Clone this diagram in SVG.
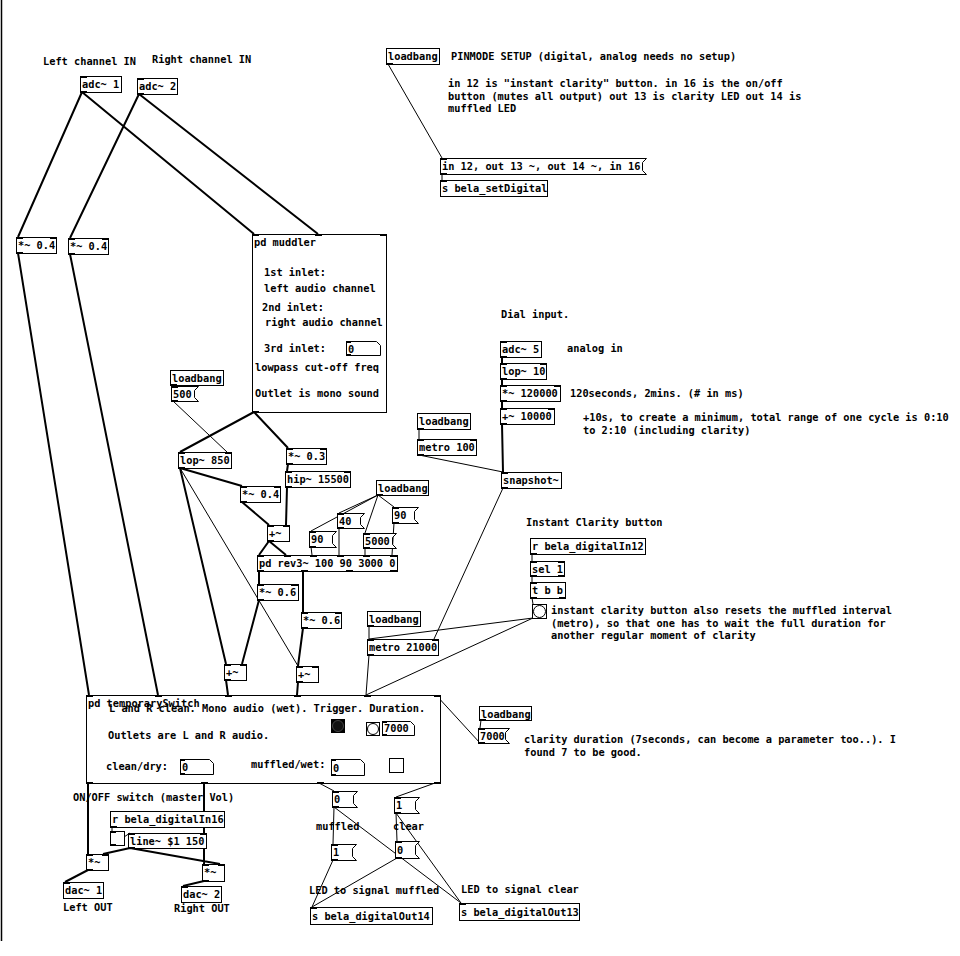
<svg xmlns="http://www.w3.org/2000/svg" width="960" height="956" viewBox="0 0 960 956">
<style>
.b{fill:#fff;stroke:#000;stroke-width:1}
.t{font-family:"DejaVu Sans Mono","Liberation Mono",monospace;font-size:10.3px;font-weight:bold;fill:#000}
.io{fill:#000}
.s{stroke:#000;stroke-width:2;fill:none}
.c{stroke:#000;stroke-width:1;fill:none}
</style>
<rect x="0" y="0" width="960" height="956" fill="#fff"/>
<line x1="1.5" y1="0" x2="1.5" y2="941" stroke="#000" stroke-width="1.5"/>
<g id="connectors">
<path class="s" d="M82 92L18 237M82 92L254 234M139 94L70 238M139 94L318 234M18 253L89 695M70 254L158 695M254 412L180 452M254 412L288 448M180 468L242 486M180 468L226 664M288 464L287 471M287 487L286 525M242 502L269 525M269 541L259 555M269 541L286 555M259 571L259 584M303 571L303 612M259 600L242 664M303 628L298 666M226 680L228 695M298 682L297 695M502 357L502 363M502 379L502 385M502 401L502 408M502 424L503 472M88 783L88 854M204 783L204 864M130 848L103 854M130 848L220 864M88 870L65 882M204 881L183 886"/>
<path class="c" stroke-width="1.4" d="M180 468L298 666"/>
<path class="c" d="M388 64L442 158M442 174L442 180M172 385L173 386M173 401L227 452M378 495L311 531M378 495L339 513M378 495L365 533M378 495L394 507M311 547L312 555M339 528L339 555M365 548L365 555M394 523L392 555M419 429L419 439M419 455L503 472M503 488L434 639M369 626L369 639M533 618L369 639M533 618L366 695M369 655L366 695M532 554L532 561M532 576L532 582M532 598L533 604M481 720L480 728M480 743L436 695M319 783L334 791M435 783L396 797M334 807L333 844M334 807L461 903M333 860L312 907M396 813L397 841M396 813L461 903M397 858L312 907M112 827L112 831M112 845L130 833"/>
</g>
<g id="comments" class="t">
<text x="43" y="65">Left channel IN</text>
<text x="152" y="63">Right channel IN</text>
<text x="451" y="60">PINMODE SETUP (digital, analog needs no setup)</text>
<text x="448" y="87">in 12 is "instant clarity" button. in 16 is the on/off</text>
<text x="448" y="99.5">button (mutes all output) out 13 is clarity LED out 14 is</text>
<text x="448" y="112">muffled LED</text>
<text x="501" y="318">Dial input.</text>
<text x="567" y="352">analog in</text>
<text x="570" y="397">120seconds, 2mins. (# in ms)</text>
<text x="583" y="421">+10s, to create a minimum, total range of one cycle is 0:10</text>
<text x="583" y="434">to 2:10 (including clarity)</text>
<text x="526" y="526">Instant Clarity button</text>
<text x="551" y="614">instant clarity button also resets the muffled interval</text>
<text x="551" y="626.5">(metro), so that one has to wait the full duration for</text>
<text x="551" y="639">another regular moment of clarity</text>
<text x="524" y="743">clarity duration (7seconds, can become a parameter too..). I</text>
<text x="524" y="755.5">found 7 to be good.</text>
<text x="73" y="801">ON/OFF switch (master Vol)</text>
<text x="316" y="830">muffled</text>
<text x="393" y="830">clear</text>
<text x="309" y="894">LED to signal muffled</text>
<text x="461" y="893">LED to signal clear</text>
<text x="63" y="911">Left OUT</text>
<text x="174" y="912">Right OUT</text>
</g>
<g id="adc1"><rect class="b" x="80.5" y="76.5" width="41" height="16"/><text class="t" x="82" y="88">adc~ 1</text><rect class="io" x="80" y="76" width="7" height="2"/><rect class="io" x="80" y="91" width="7" height="2"/></g>
<g id="adc2"><rect class="b" x="137.5" y="78.5" width="40" height="16"/><text class="t" x="139" y="90">adc~ 2</text><rect class="io" x="137" y="78" width="7" height="2"/><rect class="io" x="137" y="93" width="7" height="2"/></g>
<g id="mulL"><rect class="b" x="16.5" y="237.5" width="40" height="16"/><text class="t" x="18" y="249">*~ 0.4</text><rect class="io" x="16" y="237" width="7" height="2"/><rect class="io" x="50" y="237" width="7" height="2"/><rect class="io" x="16" y="252" width="7" height="2"/></g>
<g id="mulR"><rect class="b" x="68.5" y="238.5" width="40" height="16"/><text class="t" x="70" y="250">*~ 0.4</text><rect class="io" x="68" y="238" width="7" height="2"/><rect class="io" x="102" y="238" width="7" height="2"/><rect class="io" x="68" y="253" width="7" height="2"/></g>
<g id="muddler"><rect class="b" x="252.5" y="234.5" width="134" height="178"/>
<rect class="io" x="252" y="234" width="7" height="2"/><rect class="io" x="315" y="234" width="7" height="2"/><rect class="io" x="380" y="234" width="7" height="2"/><rect class="io" x="252" y="411" width="7" height="2"/>
<text class="t" x="254" y="246">pd muddler</text>
<text class="t" x="264" y="276">1st inlet:</text>
<text class="t" x="264" y="292">left audio channel</text>
<text class="t" x="262" y="311">2nd inlet:</text>
<text class="t" x="265" y="326">right audio channel</text>
<text class="t" x="264" y="352">3rd inlet:</text>
<path class="b" d="M346.5 341.5H376.5L380.5 345.5V355.5H346.5Z"/><text class="t" x="348" y="352.5">0</text><rect class="io" x="346" y="341" width="5" height="2"/><rect class="io" x="346" y="354" width="5" height="2"/>
<text class="t" x="255" y="371">lowpass cut-off freq</text>
<text class="t" x="255" y="397">Outlet is mono sound</text></g>
<g id="loadbang1"><rect class="b" x="386.5" y="48.5" width="53" height="16"/><text class="t" x="388" y="60">loadbang</text><rect class="io" x="386" y="63" width="7" height="2"/></g>
<g id="msgPin"><path class="b" d="M440.5 158.5H646.5L642.5 162.5V170.5L646.5 174.5H440.5Z"/><text class="t" x="442" y="170">in 12, out 13 ~, out 14 ~, in 16</text><rect class="io" x="440" y="158" width="7" height="2"/><rect class="io" x="440" y="173" width="7" height="2"/></g>
<g id="sSetDigital"><rect class="b" x="440.5" y="180.5" width="107" height="16"/><text class="t" x="442" y="192">s bela_setDigital</text><rect class="io" x="440" y="180" width="7" height="2"/></g>
<g id="loadbang2"><rect class="b" x="170.5" y="370.5" width="53" height="15"/><text class="t" x="172" y="382">loadbang</text><rect class="io" x="170" y="384" width="7" height="2"/></g>
<g id="msg500"><path class="b" d="M171.5 386.5H198.5L194.5 390.5V397.5L198.5 401.5H171.5Z"/><text class="t" x="173" y="398">500</text><rect class="io" x="171" y="386" width="7" height="2"/><rect class="io" x="171" y="400" width="7" height="2"/></g>
<g id="lop850"><rect class="b" x="178.5" y="452.5" width="53" height="16"/><text class="t" x="180" y="464">lop~ 850</text><rect class="io" x="178" y="452" width="7" height="2"/><rect class="io" x="225" y="452" width="7" height="2"/><rect class="io" x="178" y="467" width="7" height="2"/></g>
<g id="mul03"><rect class="b" x="286.5" y="448.5" width="40" height="16"/><text class="t" x="288" y="460">*~ 0.3</text><rect class="io" x="286" y="448" width="7" height="2"/><rect class="io" x="320" y="448" width="7" height="2"/><rect class="io" x="286" y="463" width="7" height="2"/></g>
<g id="hip"><rect class="b" x="285.5" y="471.5" width="65" height="16"/><text class="t" x="287" y="483">hip~ 15500</text><rect class="io" x="285" y="471" width="7" height="2"/><rect class="io" x="344" y="471" width="7" height="2"/><rect class="io" x="285" y="486" width="7" height="2"/></g>
<g id="mul04b"><rect class="b" x="240.5" y="486.5" width="40" height="16"/><text class="t" x="242" y="498">*~ 0.4</text><rect class="io" x="240" y="486" width="7" height="2"/><rect class="io" x="274" y="486" width="7" height="2"/><rect class="io" x="240" y="501" width="7" height="2"/></g>
<g id="addM"><rect class="b" x="267.5" y="525.5" width="22" height="16"/><text class="t" x="269" y="537">+~</text><rect class="io" x="267" y="525" width="7" height="2"/><rect class="io" x="283" y="525" width="7" height="2"/><rect class="io" x="267" y="540" width="7" height="2"/></g>
<g id="loadbang3"><rect class="b" x="376.5" y="480.5" width="52" height="15"/><text class="t" x="378" y="492">loadbang</text><rect class="io" x="376" y="494" width="7" height="2"/></g>
<g id="msg40"><path class="b" d="M337.5 513.5H364.5L360.5 517.5V524.5L364.5 528.5H337.5Z"/><text class="t" x="339" y="525">40</text><rect class="io" x="337" y="513" width="7" height="2"/><rect class="io" x="337" y="527" width="7" height="2"/></g>
<g id="msg90r"><path class="b" d="M392.5 507.5H418.5L414.5 511.5V519.5L418.5 523.5H392.5Z"/><text class="t" x="394" y="519">90</text><rect class="io" x="392" y="507" width="7" height="2"/><rect class="io" x="392" y="522" width="7" height="2"/></g>
<g id="msg90l"><path class="b" d="M309.5 531.5H336.5L332.5 535.5V543.5L336.5 547.5H309.5Z"/><text class="t" x="311" y="543">90</text><rect class="io" x="309" y="531" width="7" height="2"/><rect class="io" x="309" y="546" width="7" height="2"/></g>
<g id="msg5000"><path class="b" d="M363.5 533.5H396.5L392.5 537.5V544.5L396.5 548.5H363.5Z"/><text class="t" x="365" y="545">5000</text><rect class="io" x="363" y="533" width="7" height="2"/><rect class="io" x="363" y="547" width="7" height="2"/></g>
<g id="rev3"><rect class="b" x="257.5" y="555.5" width="140" height="16"/><text class="t" x="259" y="567">pd rev3~ 100 90 3000 0</text><rect class="io" x="257" y="555" width="7" height="2"/><rect class="io" x="284" y="555" width="7" height="2"/><rect class="io" x="310" y="555" width="7" height="2"/><rect class="io" x="337" y="555" width="7" height="2"/><rect class="io" x="363" y="555" width="7" height="2"/><rect class="io" x="390" y="555" width="7" height="2"/><rect class="io" x="257" y="570" width="7" height="2"/><rect class="io" x="301" y="570" width="7" height="2"/><rect class="io" x="346" y="570" width="7" height="2"/><rect class="io" x="390" y="570" width="7" height="2"/></g>
<g id="mul06a"><rect class="b" x="257.5" y="584.5" width="41" height="16"/><text class="t" x="259" y="596">*~ 0.6</text><rect class="io" x="257" y="584" width="7" height="2"/><rect class="io" x="291" y="584" width="7" height="2"/><rect class="io" x="257" y="599" width="7" height="2"/></g>
<g id="mul06b"><rect class="b" x="301.5" y="612.5" width="40" height="16"/><text class="t" x="303" y="624">*~ 0.6</text><rect class="io" x="301" y="612" width="7" height="2"/><rect class="io" x="335" y="612" width="7" height="2"/><rect class="io" x="301" y="627" width="7" height="2"/></g>
<g id="loadbang4"><rect class="b" x="367.5" y="611.5" width="53" height="15"/><text class="t" x="369" y="623">loadbang</text><rect class="io" x="367" y="625" width="7" height="2"/></g>
<g id="metro21000"><rect class="b" x="367.5" y="639.5" width="71" height="16"/><text class="t" x="369" y="651">metro 21000</text><rect class="io" x="367" y="639" width="7" height="2"/><rect class="io" x="432" y="639" width="7" height="2"/><rect class="io" x="367" y="654" width="7" height="2"/></g>
<g id="addL"><rect class="b" x="224.5" y="664.5" width="22" height="16"/><text class="t" x="226" y="676">+~</text><rect class="io" x="224" y="664" width="7" height="2"/><rect class="io" x="240" y="664" width="7" height="2"/><rect class="io" x="224" y="679" width="7" height="2"/></g>
<g id="addR"><rect class="b" x="296.5" y="666.5" width="22" height="16"/><text class="t" x="298" y="678">+~</text><rect class="io" x="296" y="666" width="7" height="2"/><rect class="io" x="312" y="666" width="7" height="2"/><rect class="io" x="296" y="681" width="7" height="2"/></g>
<g id="adc5"><rect class="b" x="500.5" y="341.5" width="41" height="16"/><text class="t" x="502" y="353">adc~ 5</text><rect class="io" x="500" y="341" width="7" height="2"/><rect class="io" x="500" y="356" width="7" height="2"/></g>
<g id="lop10"><rect class="b" x="500.5" y="363.5" width="46" height="16"/><text class="t" x="502" y="375">lop~ 10</text><rect class="io" x="500" y="363" width="7" height="2"/><rect class="io" x="540" y="363" width="7" height="2"/><rect class="io" x="500" y="378" width="7" height="2"/></g>
<g id="mul120000"><rect class="b" x="500.5" y="385.5" width="60" height="16"/><text class="t" x="502" y="397">*~ 120000</text><rect class="io" x="500" y="385" width="7" height="2"/><rect class="io" x="554" y="385" width="7" height="2"/><rect class="io" x="500" y="400" width="7" height="2"/></g>
<g id="add10000"><rect class="b" x="500.5" y="408.5" width="54" height="16"/><text class="t" x="502" y="420">+~ 10000</text><rect class="io" x="500" y="408" width="7" height="2"/><rect class="io" x="548" y="408" width="7" height="2"/><rect class="io" x="500" y="423" width="7" height="2"/></g>
<g id="loadbang5"><rect class="b" x="417.5" y="413.5" width="53" height="16"/><text class="t" x="419" y="425">loadbang</text><rect class="io" x="417" y="428" width="7" height="2"/></g>
<g id="metro100"><rect class="b" x="417.5" y="439.5" width="59" height="16"/><text class="t" x="419" y="451">metro 100</text><rect class="io" x="417" y="439" width="7" height="2"/><rect class="io" x="470" y="439" width="7" height="2"/><rect class="io" x="417" y="454" width="7" height="2"/></g>
<g id="snapshot"><rect class="b" x="501.5" y="472.5" width="60" height="16"/><text class="t" x="503" y="484">snapshot~</text><rect class="io" x="501" y="472" width="7" height="2"/><rect class="io" x="501" y="487" width="7" height="2"/></g>
<g id="rIn12"><rect class="b" x="530.5" y="538.5" width="115" height="16"/><text class="t" x="532" y="550">r bela_digitalIn12</text><rect class="io" x="530" y="553" width="7" height="2"/></g>
<g id="sel1"><rect class="b" x="530.5" y="561.5" width="34" height="15"/><text class="t" x="532" y="573">sel 1</text><rect class="io" x="530" y="561" width="7" height="2"/><rect class="io" x="558" y="561" width="7" height="2"/><rect class="io" x="530" y="575" width="7" height="2"/><rect class="io" x="558" y="575" width="7" height="2"/></g>
<g id="tbb"><rect class="b" x="530.5" y="582.5" width="35" height="16"/><text class="t" x="532" y="594">t b b</text><rect class="io" x="530" y="582" width="7" height="2"/><rect class="io" x="530" y="597" width="7" height="2"/><rect class="io" x="559" y="597" width="7" height="2"/></g>
<g id="bng1"><rect class="b" x="532.5" y="604.5" width="14" height="14"/><circle cx="539.5" cy="611.5" r="6" fill="#fff" stroke="#000"/></g>
<g id="temporarySwitch"><rect class="b" x="86.5" y="695.5" width="354" height="88"/>
<rect class="io" x="86" y="695" width="7" height="2"/><rect class="io" x="155" y="695" width="7" height="2"/><rect class="io" x="225" y="695" width="7" height="2"/><rect class="io" x="294" y="695" width="7" height="2"/><rect class="io" x="364" y="695" width="7" height="2"/><rect class="io" x="434" y="695" width="7" height="2"/>
<rect class="io" x="86" y="782" width="7" height="2"/><rect class="io" x="201" y="782" width="7" height="2"/><rect class="io" x="317" y="782" width="7" height="2"/><rect class="io" x="434" y="782" width="7" height="2"/>
<text class="t" x="109" y="712">L and R clean. Mono audio (wet). Trigger. Duration.</text>
<text class="t" x="88" y="707">pd temporarySwitch</text>
<text class="t" x="108" y="739">Outlets are L and R audio.</text>
<text class="t" x="106" y="770">clean/dry:</text>
<text class="t" x="251" y="768">muffled/wet:</text>
<rect x="331" y="719" width="14" height="14" fill="#000"/><circle cx="338" cy="726" r="5.5" fill="#111" stroke="#444"/>
<rect class="b" x="366.5" y="722.5" width="13" height="13"/><circle cx="373" cy="729" r="5.5" fill="#fff" stroke="#000"/>
<path class="b" d="M382.5 721.5H410.5L414.5 725.5V735.5H382.5Z"/><text class="t" x="384" y="732">7000</text><rect class="io" x="382" y="721" width="5" height="2"/><rect class="io" x="382" y="734" width="5" height="2"/>
<path class="b" d="M180.5 759.5H209.5L213.5 763.5V774.5H180.5Z"/><text class="t" x="182" y="771">0</text><rect class="io" x="180" y="759" width="5" height="2"/><rect class="io" x="180" y="773" width="5" height="2"/>
<path class="b" d="M331.5 759.5H360.5L364.5 763.5V775.5H331.5Z"/><text class="t" x="333" y="771.5">0</text><rect class="io" x="331" y="759" width="5" height="2"/><rect class="io" x="331" y="774" width="5" height="2"/>
<rect class="b" x="389.5" y="758.5" width="14" height="14"/></g>
<g id="loadbang6"><rect class="b" x="479.5" y="706.5" width="52" height="14"/><text class="t" x="481" y="717.5">loadbang</text><rect class="io" x="479" y="719" width="7" height="2"/></g>
<g id="msg7000"><path class="b" d="M478.5 728.5H509.5L505.5 732.5V739.5L509.5 743.5H478.5Z"/><text class="t" x="480" y="740">7000</text><rect class="io" x="478" y="728" width="7" height="2"/><rect class="io" x="478" y="742" width="7" height="2"/></g>
<g id="rIn16"><rect class="b" x="110.5" y="811.5" width="114" height="16"/><text class="t" x="112" y="823">r bela_digitalIn16</text><rect class="io" x="110" y="826" width="7" height="2"/></g>
<g id="toggle"><rect class="b" x="110.5" y="831.5" width="14" height="14"/><rect class="io" x="110" y="831" width="6" height="2"/><rect class="io" x="110" y="844" width="6" height="2"/></g>
<g id="line"><rect class="b" x="128.5" y="833.5" width="78" height="15"/><text class="t" x="130" y="845">line~ $1 150</text><rect class="io" x="128" y="833" width="7" height="2"/><rect class="io" x="200" y="833" width="7" height="2"/><rect class="io" x="128" y="847" width="7" height="2"/></g>
<g id="mulOutL"><rect class="b" x="86.5" y="854.5" width="22" height="16"/><text class="t" x="88" y="866">*~</text><rect class="io" x="86" y="854" width="7" height="2"/><rect class="io" x="102" y="854" width="7" height="2"/><rect class="io" x="86" y="869" width="7" height="2"/></g>
<g id="mulOutR"><rect class="b" x="202.5" y="864.5" width="22" height="17"/><text class="t" x="204" y="876">*~</text><rect class="io" x="202" y="864" width="7" height="2"/><rect class="io" x="218" y="864" width="7" height="2"/><rect class="io" x="202" y="880" width="7" height="2"/></g>
<g id="dac1"><rect class="b" x="63.5" y="882.5" width="40" height="16"/><text class="t" x="65" y="894">dac~ 1</text><rect class="io" x="63" y="882" width="7" height="2"/></g>
<g id="dac2"><rect class="b" x="181.5" y="886.5" width="40" height="16"/><text class="t" x="183" y="898">dac~ 2</text><rect class="io" x="181" y="886" width="7" height="2"/></g>
<g id="msg0a"><path class="b" d="M332.5 791.5H357.5L353.5 795.5V803.5L357.5 807.5H332.5Z"/><text class="t" x="334" y="803">0</text><rect class="io" x="332" y="791" width="7" height="2"/><rect class="io" x="332" y="806" width="7" height="2"/></g>
<g id="msg1a"><path class="b" d="M394.5 797.5H419.5L415.5 801.5V809.5L419.5 813.5H394.5Z"/><text class="t" x="396" y="809">1</text><rect class="io" x="394" y="797" width="7" height="2"/><rect class="io" x="394" y="812" width="7" height="2"/></g>
<g id="msg1b"><path class="b" d="M331.5 844.5H356.5L352.5 848.5V856.5L356.5 860.5H331.5Z"/><text class="t" x="333" y="856">1</text><rect class="io" x="331" y="844" width="7" height="2"/><rect class="io" x="331" y="859" width="7" height="2"/></g>
<g id="msg0b"><path class="b" d="M395.5 841.5H419.5L415.5 845.5V854.5L419.5 858.5H395.5Z"/><text class="t" x="397" y="853.5">0</text><rect class="io" x="395" y="841" width="7" height="2"/><rect class="io" x="395" y="857" width="7" height="2"/></g>
<g id="sOut14"><rect class="b" x="310.5" y="907.5" width="122" height="17"/><text class="t" x="312" y="920">s bela_digitalOut14</text><rect class="io" x="310" y="907" width="7" height="2"/></g>
<g id="sOut13"><rect class="b" x="459.5" y="903.5" width="120" height="17"/><text class="t" x="461" y="916">s bela_digitalOut13</text><rect class="io" x="459" y="903" width="7" height="2"/></g>
</svg>
